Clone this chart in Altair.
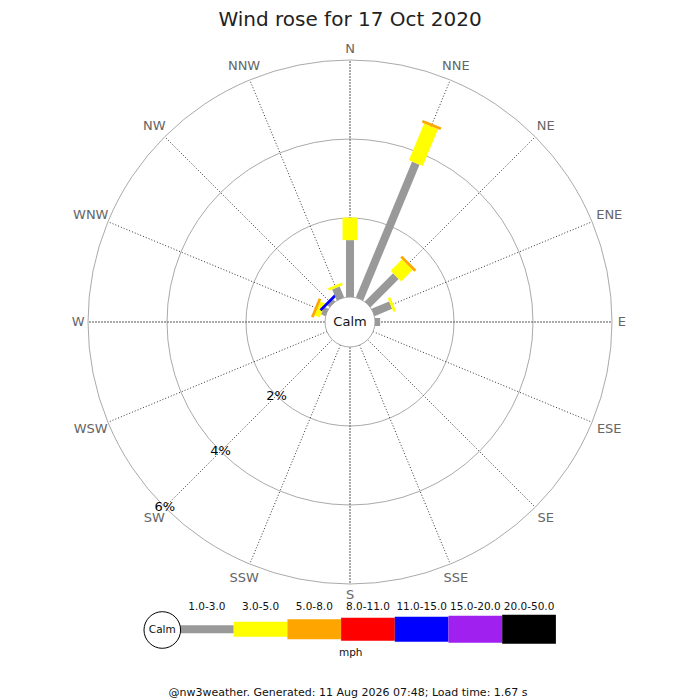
import altair as alt
import pandas as pd

# Windrichtungen im Uhrzeigersinn ab Norden
directions = ["N", "NNE", "NE", "ENE", "E", "ESE", "SE", "SSE",
              "S", "SSW", "SW", "WSW", "W", "WNW", "NW", "NNW"]

speed_bins = ["1.0-3.0", "3.0-5.0", "5.0-8.0", "8.0-11.0",
              "11.0-15.0", "15.0-20.0", "20.0-50.0"]

# Anteil des Tages in % je Richtung, eine Liste pro Geschwindigkeitsklasse
freq_1_3 = [1.44, 3.72, 1.01, 0.48, 0.13, 0, 0, 0, 0, 0, 0, 0, 0, 0.12, 0.07, 0.30]
freq_3_5 = [0.57, 1.01, 0.41, 0.07, 0, 0, 0, 0, 0, 0, 0, 0, 0, 0.14, 0, 0.07]
freq_5_8 = [0, 0.07, 0.07, 0, 0, 0, 0, 0, 0, 0, 0, 0, 0, 0.07, 0, 0]
freq_8_11 = [0, 0, 0, 0, 0, 0, 0, 0, 0, 0, 0, 0, 0, 0, 0, 0]
freq_11_15 = [0, 0, 0, 0, 0, 0, 0, 0, 0, 0, 0, 0, 0, 0, 0.07, 0]
freq_15_20 = [0, 0, 0, 0, 0, 0, 0, 0, 0, 0, 0, 0, 0, 0, 0, 0]
freq_20_50 = [0, 0, 0, 0, 0, 0, 0, 0, 0, 0, 0, 0, 0, 0, 0, 0]
freqs = [freq_1_3, freq_3_5, freq_5_8, freq_8_11, freq_11_15, freq_15_20, freq_20_50]

ring_pcts = [2, 4, 6]
ring_labels = ["2%", "4%", "6%"]

title_text = "Wind rose for 17 Oct 2020"
unit_text = "mph"
footer_text = "@nw3weather. Generated: 11 Aug 2026 07:48; Load time: 1.67 s"

# Stil
colors = ["#999999", "#ffff00", "#ffa500", "#ff0000", "#0000ff", "#a020f0", "#000000"]
bar_widths = [8, 15, 20, 23, 25, 27, 29]
FONT = "DejaVu Sans"

# Geometrie (Pixel relativ zur Mitte)
CALM_R = 25
PX = 39.5          # Pixel pro Prozent
R_OUT = CALM_R + PX * 6
W, H = 684, 692
CX, CY = 342, 314  # Mitte in Chart-Pixeln
LEG_X0, LEG_STEP, LEG_Y = -170, 53.7, -307.3

xs = alt.Scale(domain=[-CX, W - CX], nice=False, zero=False)
ys = alt.Scale(domain=[CY - H, CY], nice=False, zero=False)
color_scale = alt.Scale(domain=speed_bins, range=colors)
width_scale = alt.Scale(type="ordinal", domain=speed_bins, range=bar_widths)


def X(f):
    return alt.X(f, scale=xs, axis=None)


def Y(f):
    return alt.Y(f, scale=ys, axis=None)


rows = []
for b, (name, vals) in enumerate(zip(speed_bins, freqs)):
    for d, v in enumerate(vals):
        if v > 0:
            rows.append({"dir": directions[d], "dir_idx": d, "bin": name,
                         "bin_idx": b, "value": v})
seg = pd.DataFrame(rows)
dirs = pd.DataFrame({"dir": directions, "dir_idx": list(range(16))})
rings = pd.DataFrame({"pct": ring_pcts, "label": ring_labels})
legend = pd.DataFrame({"bin": speed_bins, "idx": list(range(len(speed_bins)))})

# Ringe
ring_layer = alt.Chart(rings).transform_calculate(
    cx="0", cy="0", size=f"pow(2 * ({CALM_R} + {PX} * datum.pct), 2)"
).mark_point(shape="circle", filled=False, stroke="#aaaaaa", strokeWidth=1, opacity=1).encode(
    x=X("cx:Q"), y=Y("cy:Q"), size=alt.Size("size:Q", scale=None)
)

# Speichen
spokes = alt.Chart(dirs).transform_calculate(
    a="datum.dir_idx * 22.5 * PI / 180",
    x=f"{CALM_R} * sin(datum.a)", y=f"{CALM_R} * cos(datum.a)",
    x2=f"{R_OUT} * sin(datum.a)", y2=f"{R_OUT} * cos(datum.a)"
)
spokes_diag = spokes.transform_filter("datum.dir_idx % 4 != 0").mark_rule(
    color="#333333", strokeWidth=1, strokeDash=[1, 2]
).encode(x=X("x:Q"), y=Y("y:Q"), x2="x2:Q", y2="y2:Q")
spokes_main = spokes.transform_filter("datum.dir_idx % 4 == 0").mark_rule(
    color="#555555", strokeWidth=1, strokeDash=[2, 1]
).encode(x=X("x:Q"), y=Y("y:Q"), x2="x2:Q", y2="y2:Q")

# Beschriftung knapp ausserhalb des Aussenrings, je nach Textbreite
dir_labels = alt.Chart(dirs).transform_calculate(
    a="datum.dir_idx * 22.5 * PI / 180",
    r="268 + 4.7 * abs(cos(datum.a)) + 3.9 * length(datum.dir) * abs(sin(datum.a))",
    x="datum.r * sin(datum.a)", y="datum.r * cos(datum.a)"
).mark_text(font=FONT, fontSize=13, color="#666666", baseline="middle", align="center").encode(
    x=X("x:Q"), y=Y("y:Q"), text="dir:N"
)

# Windstille-Kreis
calm = pd.DataFrame({"label": ["Calm"]})
calm_circle = alt.Chart(calm).transform_calculate(
    cx="0", cy="0", size=f"pow(2 * {CALM_R}, 2)"
).mark_point(shape="circle", filled=True, fill="white", stroke="#aaaaaa",
             strokeWidth=1, opacity=1).encode(
    x=X("cx:Q"), y=Y("cy:Q"), size=alt.Size("size:Q", scale=None)
)
calm_text = alt.Chart(calm).transform_calculate(cx="0", cy="0").mark_text(
    font=FONT, fontSize=13, color="#111111", baseline="middle"
).encode(x=X("cx:Q"), y=Y("cy:Q"), text="label:N")

# Balken
bars = alt.Chart(seg).transform_window(
    cum="sum(value)", groupby=["dir_idx"], sort=[alt.SortField("bin_idx")], frame=[None, 0]
).transform_calculate(
    a="datum.dir_idx * 22.5 * PI / 180",
    r0=f"{CALM_R} + {PX} * (datum.cum - datum.value)",
    r1=f"{CALM_R} + {PX} * datum.cum",
    x="datum.r0 * sin(datum.a)", y="datum.r0 * cos(datum.a)",
    x2="datum.r1 * sin(datum.a)", y2="datum.r1 * cos(datum.a)",
    draw="datum.dir_idx * 10 + datum.bin_idx"
).mark_rule(strokeCap="butt").encode(
    x=X("x:Q"), y=Y("y:Q"), x2="x2:Q", y2="y2:Q",
    color=alt.Color("bin:N", scale=color_scale, legend=None),
    strokeWidth=alt.StrokeWidth("bin:N", scale=width_scale, legend=None),
    order=alt.Order("draw:Q")
)

pct_labels = alt.Chart(rings).transform_calculate(
    x=f"({CALM_R} + {PX} * datum.pct) * sin(225 * PI / 180)",
    y=f"({CALM_R} + {PX} * datum.pct) * cos(225 * PI / 180)"
).mark_text(font=FONT, fontSize=13, color="#000000", baseline="middle").encode(
    x=X("x:Q"), y=Y("y:Q"), text="label:N"
)

# Legende
leg_bars = alt.Chart(legend).transform_calculate(
    x=f"{LEG_X0} + datum.idx * {LEG_STEP}", x2=f"{LEG_X0} + (datum.idx + 1) * {LEG_STEP}",
    y=f"{LEG_Y}"
).mark_rule(strokeCap="butt").encode(
    x=X("x:Q"), x2="x2:Q", y=Y("y:Q"),
    color=alt.Color("bin:N", scale=color_scale, legend=None),
    strokeWidth=alt.StrokeWidth("bin:N", scale=width_scale, legend=None)
)
leg_text = alt.Chart(legend).transform_calculate(
    x=f"{LEG_X0} + (datum.idx + 0.5) * {LEG_STEP}", y=f"{LEG_Y} + 22.6"
).mark_text(font=FONT, fontSize=10.5, color="#111111", baseline="middle").encode(
    x=X("x:Q"), y=Y("y:Q"), text="bin:N"
)
leg_calm = alt.Chart(calm).mark_point(
    shape="circle", filled=True, fill="white", stroke="#000000", strokeWidth=1, opacity=1
).encode(x=alt.value(154.3), y=alt.value(622), size=alt.value(1340))
leg_calm_text = alt.Chart(calm).mark_text(
    font=FONT, fontSize=10.5, color="#111111", baseline="middle"
).encode(x=alt.value(154.3), y=alt.value(622), text="label:N")

notes = pd.DataFrame({"title": [title_text], "unit": [unit_text], "footer": [footer_text]})
title = alt.Chart(notes).mark_text(
    font=FONT, fontSize=20, color="#222222", baseline="alphabetic"
).encode(x=alt.value(CX), y=alt.value(18), text="title:N")
unit = alt.Chart(notes).mark_text(
    font=FONT, fontSize=10.5, color="#111111", baseline="middle"
).encode(x=alt.value(342.7), y=alt.value(645.3), text="unit:N")
footer = alt.Chart(notes).mark_text(
    font=FONT, fontSize=11, color="#111111", baseline="middle"
).encode(x=alt.value(340), y=alt.value(685.3), text="footer:N")

chart = alt.layer(
    ring_layer, spokes_diag, spokes_main, dir_labels, calm_circle, bars, calm_text,
    pct_labels, leg_bars, leg_text, leg_calm, leg_calm_text, title, unit, footer
).properties(
    width=W, height=H, padding=0, autosize="none", background="white"
).configure_view(strokeWidth=0)

chart.save("out.html", embed_options={"renderer": "svg", "actions": False})
